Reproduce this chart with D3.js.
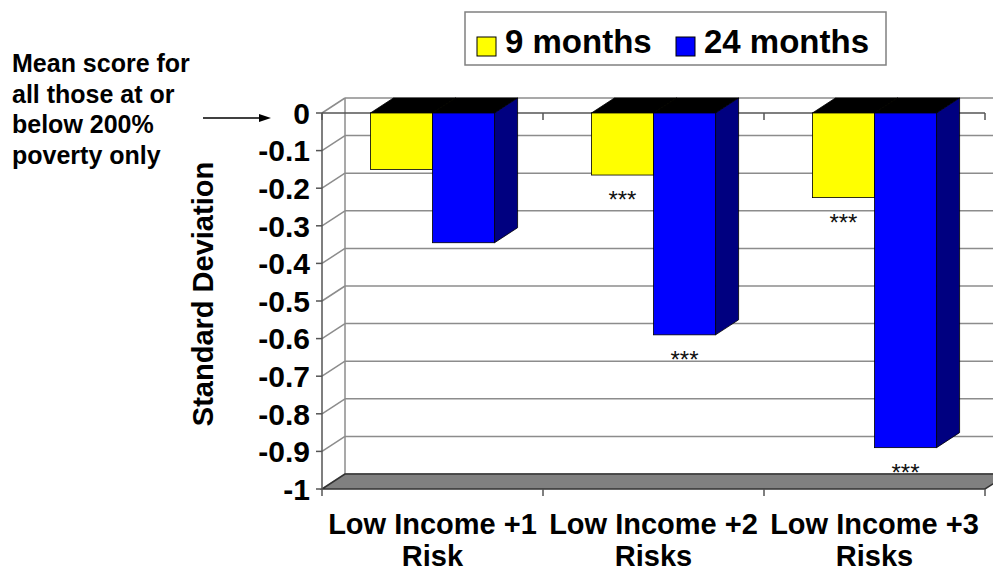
<!DOCTYPE html>
<html>
<head>
<meta charset="utf-8">
<script src="https://cdn.jsdelivr.net/npm/d3@7"></script>
<style>
	body { margin: 0; background: #ffffff; }
	text { font-family: "Liberation Sans", Arial, sans-serif; }
</style>
</head>
<body>
<div id="chart"></div>
<script>
const svg_dimensions = {
	height: 573,
	width: 993,
};
const plot = {
	left: 322,
	right: 985,
	top: 113,
	bottom: 489,
};
// 3d offset of the back wall (and of the bar depth)
const depth = { dx: 23, dy: -15 };

const categories = ["Low Income +1 Risk", "Low Income +2 Risks", "Low Income +3 Risks"];
const category_lines = [["Low Income +1", "Risk"], ["Low Income +2", "Risks"], ["Low Income +3", "Risks"]];
const series_names = ["9 months", "24 months"];
const values_9_months = [-0.15, -0.165, -0.225];
const values_24_months = [-0.345, -0.59, -0.89];
const stars_9_months = [false, true, true];
const stars_24_months = [false, true, true];
const y_ticks = [0, -0.1, -0.2, -0.3, -0.4, -0.5, -0.6, -0.7, -0.8, -0.9, -1];
const y_tick_labels = ["0", "-0.1", "-0.2", "-0.3", "-0.4", "-0.5", "-0.6", "-0.7", "-0.8", "-0.9", "-1"];
const note_lines = ["Mean score for", "all those at or", "below 200%", "poverty only"];

const front_colors = ["#ffff00", "#0000ff"];
const side_colors = ["#9a9a00", "#000080"];
const top_color = "#000000";
const grid_color = "#8c8c8c";

const svg = d3.select("#chart")
	.append("svg")
		.attr("width", svg_dimensions.width)
		.attr("height", svg_dimensions.height);

const y = d3.scaleLinear()
	.domain([-1, 0])
	.range([plot.bottom, plot.top]);
const x0 = d3.scaleBand()
	.domain(categories)
	.range([plot.left, plot.right]);
const x1 = d3.scaleBand()
	.domain(series_names)
	.range([0, x0.bandwidth()])
	.paddingOuter(0.78);

const line = d3.line();

// back wall gridlines and side wall diagonals
const grid = svg.append("g")
	.attr("stroke", grid_color)
	.attr("stroke-width", 1.5)
	.attr("fill", "none");
grid.selectAll(".back")
	.data(y_ticks)
	.join("line")
		.attr("x1", plot.left + depth.dx)
		.attr("x2", plot.right + depth.dx)
		.attr("y1", d => y(d) + depth.dy)
		.attr("y2", d => y(d) + depth.dy);
grid.selectAll(".side")
	.data(y_ticks)
	.join("line")
		.attr("x1", plot.left)
		.attr("x2", plot.left + depth.dx)
		.attr("y1", d => y(d))
		.attr("y2", d => y(d) + depth.dy);
grid.append("line")
	.attr("x1", plot.left + depth.dx)
	.attr("x2", plot.left + depth.dx)
	.attr("y1", y(0) + depth.dy)
	.attr("y2", y(-1) + depth.dy);

// floor
svg.append("path")
	.attr("d", line([
		[plot.left, y(-1)],
		[plot.right, y(-1)],
		[plot.right + depth.dx, y(-1) + depth.dy],
		[plot.left + depth.dx, y(-1) + depth.dy],
	]) + "Z")
	.attr("fill", "#808080")
	.attr("stroke", "#333333")
	.attr("stroke-width", 1.5);

// axes
const axes = svg.append("g")
	.attr("stroke", "#555555")
	.attr("stroke-width", 1.5);
axes.append("line")
	.attr("x1", plot.left).attr("x2", plot.left)
	.attr("y1", y(0)).attr("y2", y(-1));
axes.selectAll(".ytick")
	.data(y_ticks)
	.join("line")
		.attr("x1", plot.left - 6).attr("x2", plot.left)
		.attr("y1", d => y(d)).attr("y2", d => y(d));
axes.append("line")
	.attr("x1", plot.left).attr("x2", plot.right)
	.attr("y1", y(0)).attr("y2", y(0));
const boundaries = categories.map(c => x0(c) + x0.bandwidth()).concat([plot.left]);
axes.selectAll(".xtick_top")
	.data(boundaries)
	.join("line")
		.attr("x1", d => d).attr("x2", d => d)
		.attr("y1", y(0)).attr("y2", y(0) + 7);
axes.selectAll(".xtick_bottom")
	.data(boundaries)
	.join("line")
		.attr("x1", d => d).attr("x2", d => d)
		.attr("y1", y(-1)).attr("y2", y(-1) + 7);

// bars
const bar_data = [];
categories.forEach((c, i) => {
	bar_data.push({ category: c, series: 0, value: values_9_months[i], star: stars_9_months[i] });
	bar_data.push({ category: c, series: 1, value: values_24_months[i], star: stars_24_months[i] });
});
bar_data.sort((a, b) => a.series - b.series);

const bars = svg.append("g")
	.selectAll("g")
	.data(bar_data)
	.join("g");
bars.each(function(d) {
	const xa = x0(d.category) + x1(series_names[d.series]);
	const xb = xa + x1.bandwidth();
	const ya = y(0);
	const yb = y(d.value);
	const g = d3.select(this);
	g.append("path")
		.attr("d", line([[xa, ya], [xb, ya], [xb + depth.dx, ya + depth.dy], [xa + depth.dx, ya + depth.dy]]) + "Z")
		.attr("fill", top_color)
		.attr("stroke", "#000000")
		.attr("stroke-width", 0.8);
	g.append("path")
		.attr("d", line([[xb, ya], [xb + depth.dx, ya + depth.dy], [xb + depth.dx, yb + depth.dy], [xb, yb]]) + "Z")
		.attr("fill", side_colors[d.series])
		.attr("stroke", "#000000")
		.attr("stroke-width", 0.8);
	g.append("rect")
		.attr("x", xa)
		.attr("y", ya)
		.attr("width", xb - xa)
		.attr("height", yb - ya)
		.attr("fill", front_colors[d.series])
		.attr("stroke", "#000000")
		.attr("stroke-width", 0.8);
	if (d.star) {
		g.append("text")
			.attr("x", (xa + xb) / 2)
			.attr("y", yb + 33)
			.attr("text-anchor", "middle")
			.attr("font-size", 24)
			.attr("fill", "#111111")
			.text("***");
	}
});

// y tick labels
svg.append("g")
	.selectAll("text")
	.data(y_ticks)
	.join("text")
		.attr("x", 310)
		.attr("y", d => y(d))
		.attr("dy", "0.36em")
		.attr("text-anchor", "end")
		.attr("font-size", 30)
		.attr("font-weight", "bold")
		.text((d, i) => y_tick_labels[i]);

svg.append("text")
	.attr("transform", "translate(213," + 294 + ") rotate(-90)")
	.attr("text-anchor", "middle")
	.attr("font-size", 29)
	.attr("font-weight", "bold")
	.text("Standard Deviation");

// category labels
const xlabels = svg.append("g")
	.selectAll("text")
	.data(categories)
	.join("text")
		.attr("x", d => x0(d) + x0.bandwidth() / 2)
		.attr("text-anchor", "middle")
		.attr("font-size", 29)
		.attr("font-weight", "bold");
xlabels.selectAll("tspan")
	.data((d, i) => category_lines[i])
	.join("tspan")
		.attr("x", function() { return d3.select(this.parentNode).attr("x"); })
		.attr("y", (d, i) => 534 + i * 32)
		.text(d => d);

// legend
const legend = svg.append("g");
legend.append("rect")
	.attr("x", 465).attr("y", 12)
	.attr("width", 421).attr("height", 53)
	.attr("fill", "#ffffff")
	.attr("stroke", "#808080")
	.attr("stroke-width", 1.5);
const legend_x = [477, 676];
series_names.forEach((s, i) => {
	legend.append("rect")
		.attr("x", legend_x[i]).attr("y", 37)
		.attr("width", 19).attr("height", 19)
		.attr("fill", front_colors[i])
		.attr("stroke", "#000000")
		.attr("stroke-width", 1);
	legend.append("text")
		.attr("x", legend_x[i] + 28)
		.attr("y", 53)
		.attr("font-size", 33)
		.attr("font-weight", "bold")
		.text(s);
});

// note with arrow
svg.append("g")
	.selectAll("text")
	.data(note_lines)
	.join("text")
		.attr("x", 12)
		.attr("y", (d, i) => 72 + i * 30.5)
		.attr("font-size", 25)
		.attr("font-weight", "bold")
		.text(d => d);
svg.append("line")
	.attr("x1", 203).attr("x2", 262)
	.attr("y1", 118).attr("y2", 118)
	.attr("stroke", "#000000")
	.attr("stroke-width", 1.5);
svg.append("path")
	.attr("d", line([[271, 118], [259, 114], [259, 122]]) + "Z")
	.attr("fill", "#000000");
</script>
</body>
</html>
